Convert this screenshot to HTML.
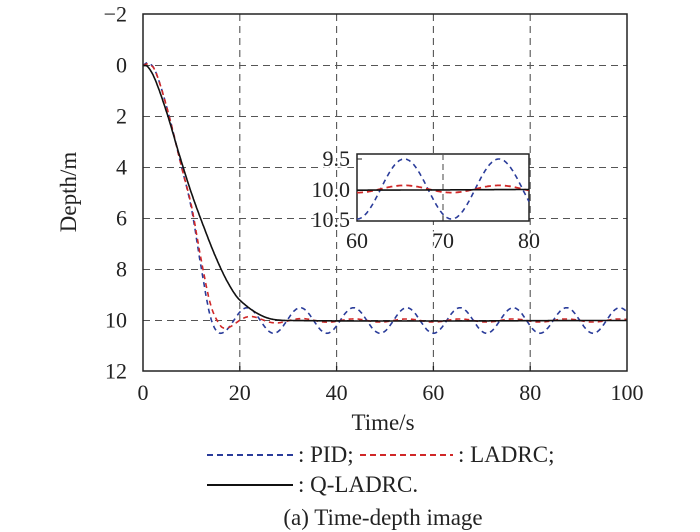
<!DOCTYPE html>
<html><head><meta charset="utf-8"><style>
body{margin:0;background:#fff}
svg{display:block}
text{font-family:"Liberation Serif",serif;fill:#222}
.h{paint-order:stroke;stroke:#fff;stroke-width:4px}
</style></head><body>
<svg id="s" width="700" height="532" viewBox="0 0 700 532" xmlns="http://www.w3.org/2000/svg">
<g id="grid" stroke="#555" stroke-width="1.1" stroke-dasharray="7,5" fill="none"></g>
<g id="series" fill="none"></g>
<rect x="143" y="14" width="484" height="357" fill="none" stroke="#222" stroke-width="1.5"/>
<g id="ticks" stroke="#222" stroke-width="1.3"></g>
<g font-size="22" text-anchor="end" id="ylab"></g>
<g font-size="22" text-anchor="middle" id="xlab"></g>
<text x="383" y="430" font-size="23" text-anchor="middle">Time/s</text>
<text transform="translate(76,192) rotate(-90)" font-size="23" text-anchor="middle">Depth/m</text>
<rect x="357" y="154" width="172" height="67" fill="#fff" stroke="#222" stroke-width="1.5"/>
<g id="inset" fill="none"></g>
<g font-size="22" text-anchor="end" class="h">
<text x="350" y="166">9.5</text><text x="350" y="197">10.0</text><text x="350" y="227">10.5</text></g>
<g font-size="22" text-anchor="middle" class="h">
<text x="357" y="248">60</text><text x="443" y="248">70</text><text x="529" y="248">80</text></g>
<line x1="207" y1="455" x2="293" y2="455" stroke="#2a3c9a" stroke-width="2" stroke-dasharray="6,4"/>
<text x="298" y="462" font-size="23">: PID;</text>
<line x1="360" y1="455" x2="453" y2="455" stroke="#d02828" stroke-width="2" stroke-dasharray="6,4"/>
<text x="458" y="462" font-size="23">: LADRC;</text>
<line x1="207" y1="485" x2="293" y2="485" stroke="#111" stroke-width="2"/>
<text x="298" y="492" font-size="23">: Q-LADRC.</text>
<text x="383" y="525" font-size="23" text-anchor="middle">(a) Time-depth image</text>
</svg>
<script>
var NS="http://www.w3.org/2000/svg";
function el(p,t,a,txt){var e=document.createElementNS(NS,t);for(var k in a)e.setAttribute(k,a[k]);if(txt!=null)e.textContent=txt;document.getElementById(p).appendChild(e);return e;}
function X(t){return 143+4.84*t;} function Y(d){return 65.5+25.5*d;}
for(var t=20;t<100;t+=20){el("grid","line",{x1:X(t),y1:14,x2:X(t),y2:371});el("ticks","line",{x1:X(t),y1:371,x2:X(t),y2:366});}
for(var d=0;d<12;d+=2){el("grid","line",{x1:143,y1:Y(d),x2:627,y2:Y(d)});}
for(var d=-2;d<=12;d+=2){el("ylab","text",{x:127,y:Y(d)+7},d<0?"\u22122":String(d));}
for(var t=0;t<=100;t+=20){el("xlab","text",{x:X(t),y:400},String(t));}
function cr(P,t){for(var i=0;i<P.length-1;i++){if(t<=P[i+1][0]){var p0=P[Math.max(0,i-1)],p1=P[i],p2=P[i+1],p3=P[Math.min(P.length-1,i+2)];var u=(t-p1[0])/(p2[0]-p1[0]);var m1=(p2[1]-p0[1])/(p2[0]-p0[0])*(p2[0]-p1[0]);var m2=(p3[1]-p1[1])/(p3[0]-p1[0])*(p2[0]-p1[0]);if(i==P.length-2)m2=0;var u2=u*u,u3=u2*u;return (2*u3-3*u2+1)*p1[1]+(u3-2*u2+u)*m1+(-2*u3+3*u2)*p2[1]+(u3-u2)*m2;}}return P[P.length-1][1];}
var PP=[[0,0],[1,-0.1],[2.5,0.2],[5,1.7],[8,4.0],[10,5.6],[12,7.9],[14,9.9],[16,10.5]];
var LP=[[0,0],[1,-0.05],[2.5,0.2],[5,1.7],[8,4.0],[10,5.5],[12,7.6],[14,9.4],[16,10.2],[17.3,10.3]];
var QP=[[0,0],[1,0.05],[2.5,0.55],[5,1.9],[7.5,3.5],[10,5.0],[12.5,6.3],[15,7.5],[17.5,8.5],[20,9.2],[25,9.85],[30,10],[100,10]];
function pid(t){if(t<16)return cr(PP,t);return 10-0.5*Math.cos(2*Math.PI*(t-65.5)/11);}
function lad(t){if(t<17.3)return cr(LP,t);var u=t-17.3;return 10+0.3*Math.exp(-u/6)*Math.cos(2*Math.PI*u/11)-0.06*Math.cos(2*Math.PI*(t-65.5)/11)*(1-Math.exp(-u/6));}
function q(t){return cr(QP,t);}
function path(f,t0,t1,XF,YF,clip){var s="";for(var t=t0;t<=t1+1e-9;t+=0.1){var v=f(t);if(clip)v=Math.max(9.45,Math.min(10.55,v));s+=(s?"L":"M")+XF(t).toFixed(1)+","+YF(v).toFixed(1);}return s;}
el("series","path",{d:path(pid,0,100,X,Y),stroke:"#2a3c9a","stroke-width":1.6,"stroke-dasharray":"5,4"});
el("series","path",{d:path(lad,0,100,X,Y),stroke:"#d02828","stroke-width":1.6,"stroke-dasharray":"5,4"});
el("series","path",{d:path(q,0,100,X,Y),stroke:"#111","stroke-width":1.6});
function IX(t){return 357+8.6*(t-60);} function IY(d){return 189+60*(d-10);}
el("inset","line",{x1:IX(70),y1:154,x2:IX(70),y2:221,stroke:"#555","stroke-width":1.1,"stroke-dasharray":"6,4"});
el("inset","line",{x1:357,y1:159,x2:362,y2:159,stroke:"#222"});
el("inset","line",{x1:IX(70),y1:221,x2:IX(70),y2:216,stroke:"#222"});
el("inset","path",{d:path(pid,60,80,IX,IY,true),stroke:"#2a3c9a","stroke-width":1.6,"stroke-dasharray":"5,4"});
el("inset","path",{d:path(lad,60,80,IX,IY,true),stroke:"#d02828","stroke-width":1.8,"stroke-dasharray":"6,4"});
el("inset","path",{d:path(q,60,80,IX,IY,true),stroke:"#111","stroke-width":1.6});
</script>
</body></html>
